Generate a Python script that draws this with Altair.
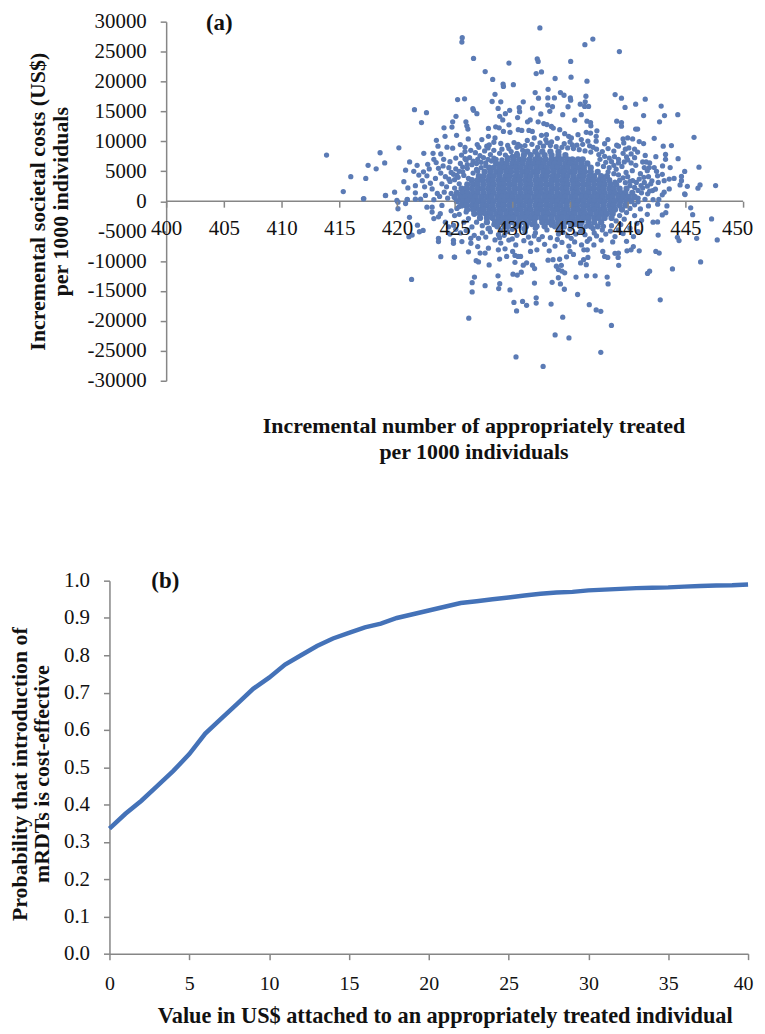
import altair as alt
import pandas as pd

# ---------- panel (a): scattered points (x, y) ----------
points_top = [
(432.39,28957),(425.66,27310),(425.63,26596),(436.98,27090),(436.29,26157),(439.28,25004),(426.64,23851),
(429.71,23083),(432.16,23796),(432.24,23357),(435.06,23357),(427.65,21655),(432.07,21326),(432.53,21600),
(433.71,20502),(435.09,20722),(428.3,20338),(436.47,20063),(429.2,19569),(429.23,19185),(430.09,19459),
(433.1,18691),(428.5,17867),(431.98,18142),(434.17,18142),(438.91,17812),(425.26,16989),(425.86,17099),
(428.25,16659),(429.0,16604),(430.95,16604),(432.27,17208),(433.08,17263),(433.65,17263),(434.48,17702),
(435.03,17263),(435.06,16879),(436.38,17537),(439.46,17208),(441.52,17044),(440.69,16220),(442.9,15891),
(439.77,15671),(436.32,16604),(435.89,16220),(436.27,15830),(436.61,15830),(433.08,16055),(433.48,15781),
(434.83,15781),(431.75,15561),(428.77,15506),(429.77,15177),(430.6,15616),(430.63,14957),(433.25,15012),
(421.52,15287),(422.56,14793),(426.58,15451),(426.64,15177),(426.93,14628),(429.4,14628),(432.47,14573),
(434.37,14463),(435.98,14463),(428.91,14189),(425.12,14189),(429.17,13585),(430.46,13969),(441.38,14299),
(443.19,14299),(444.34,14463),(431.55,13585),(431.32,13256),(422.13,13146),(424.83,13256),(425.98,13256),
(435.41,13530),(436.47,13365),(436.78,13146),(439.05,13365),(439.46,13146),(442.76,13256),(432.24,13256),
(436.81,12600),(439.46,12540),(429.71,12761),(424.77,12377),(424.08,12267),(426.06,12600),(426.15,12050),
(427.93,12158),(428.56,12430),(428.86,12270),(432.73,12980),(433.0,12800),(433.39,12490),(433.55,12220),
(429.23,11660),(429.8,11500),(430.52,11940),(430.82,11830),(431.44,11830),(431.73,11660),(432.53,11000),
(432.96,11110),(434.11,11940),(434.54,11280),(434.89,10840),(435.12,10570),(435.69,11110),(436.41,11500),
(436.78,11390),(435.98,10290),(436.55,10020),(437.27,10020),(437.33,11770),(437.27,10840),(440.69,12050),
(440.86,12050),(424.17,10840),(425.17,11000),(426.18,10400),(427.36,10290),(427.93,10840),(428.5,10570),
(423.42,10180),(423.56,9200),(424.34,9030),(424.83,8860),(425.49,9470),(426.96,9470),(427.79,9190),
(428.4,9850),(429.0,9640),(429.6,9320),(430.15,9800),(430.7,9200),(431.3,10150),(431.9,10560),(432.4,9750),
(432.9,10300),(433.4,9900),(433.9,10500),(434.5,9600),(435.0,9900),(435.6,9350),(436.1,9500),(436.7,9250),
]
points_left = [
(413.9,7710),(418.54,8095),(420.17,8919),(417.5,6000),(418.94,6393),(418.2,5405),(416.0,4087),(417.3,3813),
(415.35,1617),(417.1,400),(419.02,960),(419.8,1500),(422.33,8000),(423.13,8000),(423.8,7900),(421.1,6560),
(420.75,5190),(421.75,6000),(421.46,5000),(422.67,6170),(423.4,6450),(424.05,7000),(424.6,6600),(425.1,7200),
(421.9,4360),(422.6,4250),(423.34,3800),(420.6,3260),(420.95,2220),(421.6,2600),(422.2,3430),(423.05,2050),
(422.47,960),(421.6,1400),(420.0,130),(420.9,300),(421.6,330),(422.05,330),(417.13,440),(419.0,934),
(420.09,-164),(420.09,-1262),(420.89,275),(420.75,-384),(421.09,-2690),(421.78,-4007),(421.95,-5105),
(422.27,-4885),(421.04,-5930),(421.32,-5650),(421.27,-13065),(423.6,-6200),(423.6,-6750),(423.8,-9270),
(425.0,-9330),(424.9,-6530),(424.9,-7026),(422.6,-1000),(423.05,-1000),(423.2,-2900),(423.05,-1810),
(423.76,-2085),(423.6,-2600),(424.48,-4280),(424.9,-4000),(425.0,-2400),(424.2,-3500),(423.9,-700),
(424.4,500),(423.7,800),(423.2,250),(424.1,1500),(423.5,1300),(424.3,2400),(423.9,2900),(424.6,3300),
(424.2,4100),(423.8,4700),(424.7,4800),(425.1,5400),(424.5,5600),(423.6,5500),(425.5,6300),(426.0,6900),
(425.6,7700),(426.3,7300),(426.8,8100),(427.2,7600),(426.4,8500),(425.9,8300),(427.6,8400),(428.1,7800),
(425.2,4300),(425.7,4900),(426.1,5500),(426.5,6100),(426.9,5300),(427.3,6500),(427.7,5900),(427.9,7000),
(428.4,7200),(428.9,8000),(429.4,7700),(429.9,8300),(430.4,8000),(430.9,8500),
]
points_right = [
(445.75,10675),(446.18,5679),(447.62,2605),(446.27,2715),(446.09,2166),(445.17,2495),(444.94,1233),(444.94,4966),
(444.37,7107),(443.79,9303),(443.08,9193),(442.3,10511),(443.28,7820),(443.28,7000),(442.44,7436),(443.68,5624),
(443.02,5900),(444.66,4142),(444.66,3429),(444.02,3813),(443.6,3700),(443.16,3420),(444.54,2715),(443.16,1507),
(443.6,2050),(443.0,1060),(442.16,1782),(441.73,1240),(441.15,2605),(440.75,3130),(442.3,5624),(441.87,5624),
(441.44,5624),(441.3,6550),(441.6,6550),(441.52,7650),(440.86,8200),(440.6,7270),(441.38,9633),(441.0,9970),
(440.43,10400),(440.0,10570),(439.6,10400),(439.66,9740),(439.05,9360),(438.8,8370),(438.28,10290),(438.85,7440),
(439.7,6560),(439.0,5350),(439.86,4800),(440.43,3430),(441.44,3130),(442.59,4250),(442.65,3130),(440.1,8900),
(440.3,7900),(439.6,8000),(440.0,6900),(440.7,6000),(440.4,5100),(441.1,4600),(441.8,4100),(442.0,2900),
(441.9,6400),(442.5,5000),(443.0,4500),(442.4,2000),(441.2,1400),(440.9,500),(441.5,320),(442.2,250),(442.7,300),
(444.97,1100),(445.46,-1097),(445.63,-2250),(447.27,-2964),(445.98,-6203),(447.76,-6477),(444.31,-6038),
(444.45,-6587),(442.64,-5654),(442.59,-3458),(443.3,-1920),(443.0,-2300),(442.2,-3500),(441.7,-2200),(441.2,-3200),
(441.8,-800),(442.6,-500),(443.4,-800),(441.1,-1300),(440.6,-2400),(440.8,-3700),(440.2,-4500),(440.9,-5100),
(440.5,-5900),(439.6,-5400),(439.9,-6700),(439.2,-4800),(439.4,-3900),(439.7,-3000),(438.9,-5900),(438.5,-5000),
(438.1,-5500),(438.7,-6800),
]
points_bottom = [
(424.97,-9330),(426.2,-8454),(426.87,-9936),(427.07,-10156),(427.99,-10650),(428.9,-9660),(429.51,-9220),
(430.23,-10210),(430.72,-9220),(430.95,-10700),(431.24,-10300),(431.75,-10700),(431.93,-11254),(428.76,-12460),
(430.06,-12187),(430.43,-12350),(430.78,-11858),(426.72,-12681),(426.52,-13615),(428.91,-13779),(427.64,-14108),
(428.82,-14603),(426.52,-15152),(429.8,-14822),(431.92,-13670),(433.45,-13560),(434.17,-13834),(433.99,-12791),
(434.51,-14712),(435.52,-12681),(436.44,-12461),(437.18,-12461),(438.22,-12681),(438.3,-13834),(435.66,-15591),
(430.14,-16909),(430.89,-16745),(432.07,-16140),(432.07,-17018),(431.24,-17403),(430.37,-18336),(433.36,-17183),
(436.67,-17293),(437.27,-18171),(437.67,-18391),(434.37,-19379),(426.23,-19544),(438.59,-20752),(433.71,-22344),
(434.91,-22838),(437.67,-25253),(430.32,-26022),(432.67,-27614),(442.82,-16469),(443.88,-11309),(441.72,-12077),
(441.9,-11693),(446.32,-10156),(442.44,-8399),(442.73,-8673),(441.0,-8289),(440.49,-7575),(440.29,-8124),
(439.94,-8289),(439.22,-10705),(439.17,-9387),(438.9,-8700),(439.2,-8673),(437.07,-7300),(438.0,-9220),
(438.27,-9387),(437.84,-8400),(436.55,-9390),(436.41,-10600),(435.92,-10320),(436.18,-9770),(436.2,-8124),
(436.5,-8124),(435.0,-8400),(434.7,-9300),(435.3,-8900),(434.54,-11970),(434.25,-10705),(433.82,-10870),(434.0,-11420),
(434.3,-11680),(433.1,-9850),(433.53,-9770),(434.1,-9700),(432.13,-8124),(431.58,-8400),(430.03,-8400),(430.23,-9060),
(430.5,-9220),(427.93,-7850),(427.64,-8673),(427.21,-8673),(427.0,-7575),(426.41,-7026),(428.79,-8124),(429.37,-7960),
(428.5,-6477),(425.63,-6750),(427.07,-6200),(429.0,-7000),(429.7,-6500),(430.3,-7300),(431.0,-6600),(431.6,-7000),
(432.3,-6400),(432.8,-7200),(433.2,-8300),(433.7,-7500),(434.3,-6900),(434.9,-7500),(435.4,-6800),(436.0,-7300),
(436.7,-6300),(437.3,-5800),(437.7,-6500),(436.3,-5600),(435.5,-5500),(434.8,-5800),(434.0,-5500),(433.3,-6100),
(432.0,-5300),(431.1,-5200),(430.4,-5700),(429.6,-5100),(428.8,-5600),(428.1,-5100),(427.4,-5300),(426.7,-5700),
(426.0,-4900),(425.5,-5300),(426.5,-4300),(427.4,-4100),(427.9,-4600),(425.8,-3500),(426.2,-2900),(425.4,-2200),
(425.2,-1200),(424.7,-1600),
]
points_mid = [
(425.0,3600),(425.4,2900),(425.0,2200),(424.7,1300),(425.3,4000),(425.8,4300),(426.2,3800),(426.6,4700),(427.0,5000),
(427.3,5600),(427.7,6400),(428.2,6700),(428.6,7000),(429.1,6900),(429.6,7300),(430.0,7500),(427.0,7000),(427.5,7300),
(426.6,6700),(426.1,6100),(425.7,5700),(427.9,8900),(428.4,8500),(429.1,8700),(429.7,8800),(430.4,9000),(431.1,9300),
(431.7,9500),(432.2,9000),(432.7,9200),(433.3,9300),(433.8,9100),(434.3,9000),(434.8,8900),(435.3,8800),(435.8,8600),
(436.3,8400),(436.8,8200),(437.3,8700),(437.8,8300),(438.3,8800),(437.5,7800),(438.0,7500),(438.4,7200),(437.6,7000),
(438.1,6500),(438.6,6600),(437.4,6200),(437.9,5800),(438.4,5600),(438.8,6000),(439.2,6400),(439.5,5800),(438.3,4900),
(438.8,4600),(439.2,4400),(439.6,3900),(440.0,4100),(439.3,3500),(439.8,3100),(440.2,2600),(440.6,2300),(441.0,3700),
(440.9,1800),(441.3,2200),(441.7,2500),(441.9,1700),(428.0,-4500),(429.0,-4900),(430.0,-4700),(431.0,-4600),(432.0,-4500),
(433.0,-4800),(434.0,-4600),(435.0,-4700),(436.0,-4900),(437.0,-4600),(437.8,-4800),(438.6,-4100),(439.0,-3300),
(439.3,-2400),(439.9,-1900),(440.2,-1200),(440.6,-600),(440.9,-100),(426.0,-1800),(425.4,-900),(426.9,-3500),(428.4,-3900),
(429.3,-4300),(430.6,-4100),(431.7,-3900),(433.4,-4000),(434.5,-4300),(435.5,-3900),(436.4,-4200),(437.9,-4200),
(428.9,-6100),(430.0,-6300),(431.4,-6000),(432.6,-5900),(433.9,-6400),(435.1,-6200),(436.5,-6700),(429.3,-5700),
(431.9,-5800),(434.4,-5200),(435.9,-5100),(437.1,-5300),(427.7,-6000),(426.4,-6200),(425.1,-4700),(424.6,-5500),
(425.9,9000),(427.1,9000),(428.0,9400),(430.5,9500),(433.0,9800),(435.2,9400),(437.0,9000),(438.0,9600),(439.2,9200),
(439.8,8700),(440.6,8700),(426.9,6300),(425.4,5000),(424.9,4500),(424.5,3700),(425.9,7100),(424.0,5900),(423.2,7000),
(422.8,5400),(422.3,4900),(422.9,3000),(422.4,2400),(438.9,3200),(440.2,3300),(441.4,4000),(442.1,3400),(441.7,5100),
(440.3,6400),(439.2,7000),(439.9,7400),
]

# ---------- panel (a): the solid heart of the cloud, row by row ----------
core_y = [8300, 7700, 7000, 6300, 5600, 4900, 4200, 3500, 2800, 2100, 1400, 700, 0, -700, -1400, -2100, -2800, -3500, -4200]
core_x = [
[431.3,432.0,432.6,433.3,434.0],
[430.4,431.0,431.6,432.2,432.8,433.4,434.0,434.6],
[429.6,430.1,430.6,431.0,431.5,432.0,432.4,432.9,433.4,433.8,434.3,434.8,435.2,435.7,436.1],
[428.6,429.1,429.5,430.0,430.4,430.9,431.4,431.8,432.3,432.7,433.2,433.7,434.1,434.6,435.0,435.5,436.0,436.5],
[428.0,428.4,428.9,429.3,429.8,430.3,430.7,431.2,431.6,432.1,432.5,433.0,433.5,433.9,434.4,434.8,435.3,435.7,436.2,436.8],
[427.6,428.1,428.6,429.0,429.5,429.9,430.4,430.9,431.3,431.8,432.2,432.7,433.1,433.6,434.1,434.5,435.0,435.4,435.9,436.3,436.8,437.4],
[427.1,427.5,428.0,428.4,428.9,429.4,429.8,430.3,430.7,431.2,431.6,432.1,432.6,433.0,433.5,433.9,434.4,434.8,435.3,435.8,436.2,436.7,437.1,437.7,438.2],
[426.5,427.0,427.4,427.9,428.3,428.8,429.2,429.7,430.2,430.6,431.1,431.5,432.0,432.4,432.9,433.4,433.8,434.3,434.7,435.2,435.6,436.1,436.6,437.0,437.5,437.9,438.4],
[426.1,426.6,427.0,427.5,428.0,428.4,428.9,429.3,429.8,430.2,430.7,431.2,431.6,432.1,432.5,433.0,433.4,433.9,434.4,434.8,435.3,435.7,436.2,436.6,437.1,437.6,438.0,438.5,439.0],
[425.6,426.0,426.5,427.0,427.4,427.9,428.3,428.8,429.2,429.7,430.2,430.6,431.1,431.5,432.0,432.4,432.9,433.4,433.8,434.3,434.7,435.2,435.6,436.1,436.6,437.0,437.5,437.9,438.4,438.8,439.3,439.9],
[425.2,425.7,426.1,426.6,427.0,427.5,428.0,428.4,428.9,429.3,429.8,430.2,430.7,431.2,431.6,432.1,432.5,433.0,433.4,433.9,434.4,434.8,435.3,435.7,436.2,436.6,437.1,437.6,438.0,438.5,438.9,439.4,439.8,440.4],
[425.0,425.5,425.9,426.4,426.8,427.3,427.8,428.2,428.7,429.1,429.6,430.0,430.5,431.0,431.4,431.9,432.3,432.8,433.2,433.7,434.2,434.6,435.1,435.5,436.0,436.4,436.9,437.4,437.8,438.3,438.7,439.2,439.6,440.1,440.6],
[425.2,425.7,426.1,426.6,427.1,427.5,428.0,428.4,428.9,429.3,429.8,430.3,430.7,431.2,431.6,432.1,432.5,433.0,433.5,433.9,434.4,434.8,435.3,435.7,436.2,436.7,437.1,437.6,438.0,438.5,438.9,439.4,439.9,440.3],
[425.6,426.0,426.5,426.9,427.4,427.8,428.3,428.8,429.2,429.7,430.1,430.6,431.0,431.5,432.0,432.4,432.9,433.3,433.8,434.2,434.7,435.2,435.6,436.1,436.5,437.0,437.4,437.9,438.4,438.8,439.3,439.8],
[426.1,426.6,427.1,427.5,428.0,428.4,428.9,429.3,429.8,430.3,430.7,431.2,431.6,432.1,432.5,433.0,433.5,433.9,434.4,434.8,435.3,435.7,436.2,436.7,437.1,437.6,438.0,438.5,438.9,439.5],
[426.7,427.2,427.7,428.1,428.6,429.0,429.5,429.9,430.4,430.9,431.3,431.8,432.2,432.7,433.1,433.6,434.1,434.5,435.0,435.4,435.9,436.3,436.8,437.3,437.7,438.2,438.7],
[427.2,427.8,428.3,428.8,429.2,429.7,430.1,430.6,431.1,431.6,432.0,432.5,432.9,433.4,433.9,434.3,434.8,435.2,435.7,436.2,436.6,437.1,437.5,438.0,438.6],
[427.8,428.5,429.0,429.4,429.9,430.5,431.0,431.4,431.9,432.6,433.1,433.5,434.0,434.6,435.0,435.5,436.0,436.6,437.1,437.7],
[428.7,429.6,430.3,431.2,432.1,432.8,433.7,434.2,435.1,435.9,436.8,437.4],
]

# ---------- panel (b) ----------
value_usd = list(range(0, 41))
probability = [0.335,0.375,0.41,0.45,0.49,0.535,0.59,0.63,0.67,0.71,0.74,0.775,0.80,0.825,0.845,0.86,0.875,0.885,0.90,0.91,
               0.92,0.93,0.94,0.945,0.95,0.955,0.96,0.965,0.968,0.97,0.974,0.976,0.978,0.98,0.981,0.982,0.984,0.986,0.987,0.988,0.99]

x_ticks_a = list(range(400, 451, 5))
y_ticks_a = list(range(-30000, 30001, 5000))
x_ticks_b = list(range(0, 41, 5))
y_ticks_b = [0.0,0.1,0.2,0.3,0.4,0.5,0.6,0.7,0.8,0.9,1.0]

rows = list(points_top) + list(points_left) + list(points_right) + list(points_bottom) + list(points_mid)
scatter = pd.DataFrame(rows, columns=["x", "y"])
core = pd.DataFrame([(v, yy) for yy, xs in zip(core_y, core_x) for v in xs], columns=["x", "y"])
curve = pd.DataFrame({"x": value_usd, "y": probability})

SERIF = "Liberation Serif"
AXIS = "#868686"
DOT = "#5B7BB5"
common = dict(domainColor=AXIS, tickColor=AXIS, domainWidth=1.5, tickWidth=1.5, grid=False,
              labelFont=SERIF, labelColor="#111111", titleFont=SERIF, titleFontWeight="bold",
              titleColor="#111111")

xa = alt.X("x:Q", scale=alt.Scale(domain=[395.086, 450], nice=False, zero=False),
           axis=alt.Axis(values=x_ticks_a, offset=-180.5, domain=False, tickSize=6, labelFontSize=21, labelPadding=10,
                         labelFlush=False, labelOverlap=False, zindex=1,
                         labelOffset={"condition": {"test": "datum.value == 450", "value": -6}, "value": 0},
                         title=["Incremental number of appropriately treated", "per 1000 individuals"],
                         titleX=366, titleY=215.5, titleLineHeight=26, titleFontSize=22, **common))
ya = alt.Y("y:Q", scale=alt.Scale(domain=[-30000, 30000], nice=False, zero=False),
           axis=alt.Axis(values=y_ticks_a, offset=-57, tickSize=6, labelFontSize=21, labelPadding=14, labelOverlap=False,
                         labelExpr="'' + datum.value",
                         title=["Incremental societal costs (US$)", "per 1000 individuals"],
                         titleLineHeight=23, titlePadding=15, titleFontSize=22, **common))

zero_line = (alt.Chart(pd.DataFrame({"x": [400], "x2": [450], "y": [0]}))
             .mark_rule(color=AXIS, strokeWidth=1.5)
             .encode(x=xa, x2="x2:Q", y=ya))
dots = alt.Chart(scatter).mark_circle(size=28, color=DOT, opacity=1).encode(x=xa, y=ya)
core_dots = alt.Chart(core).mark_circle(size=40, color=DOT, opacity=1).encode(x=xa, y=ya)
label_a = (alt.Chart(pd.DataFrame({"x": [404.6], "y": [29700], "t": ["(a)"]}))
           .mark_text(font=SERIF, fontWeight="bold", fontSize=23, color="#111111")
           .encode(x=xa, y=ya, text="t:N"))
panel_a = alt.layer(zero_line, dots, core_dots, label_a).properties(width=637, height=361)

xb = alt.X("x:Q", scale=alt.Scale(domain=[0, 40], nice=False, zero=True),
           axis=alt.Axis(values=x_ticks_b, tickSize=6, labelFontSize=20, labelPadding=14, labelFlush=False, labelOverlap=False,
                         labelOffset={"condition": {"test": "datum.value == 40", "value": -5}, "value": 0},
                         title="Value in US$ attached to an appropriately treated individual",
                         titleX=337, titleY=51, titleFontSize=22.4, **common))
yb = alt.Y("y:Q", scale=alt.Scale(domain=[0, 1], nice=False, zero=True),
           axis=alt.Axis(values=y_ticks_b, format=".1f", tickSize=6, labelFontSize=21, labelPadding=14, labelOverlap=False,
                         title=["Probability that introduction of", "mRDTs is cost-effective"],
                         titleLineHeight=22, titlePadding=10, titleFontSize=22, titleY=194, **common))
line = alt.Chart(curve).mark_line(color="#4472B8", strokeWidth=4.5).encode(x=xb, y=yb)
label_b = (alt.Chart(pd.DataFrame({"x": [3.5], "y": [1.0], "t": ["(b)"]}))
           .mark_text(font=SERIF, fontWeight="bold", fontSize=23, color="#111111")
           .encode(x=xb, y=yb, text="t:N"))
panel_b = alt.layer(line, label_b).properties(width=642, height=375)

chart = (alt.vconcat(panel_a, panel_b, spacing=201, bounds="flush")
         .resolve_scale(x="independent", y="independent")
         .configure_view(stroke=None)
         .properties(padding=0, background="white"))
chart.save("out.html", embed_options={"renderer": "svg", "actions": False})
